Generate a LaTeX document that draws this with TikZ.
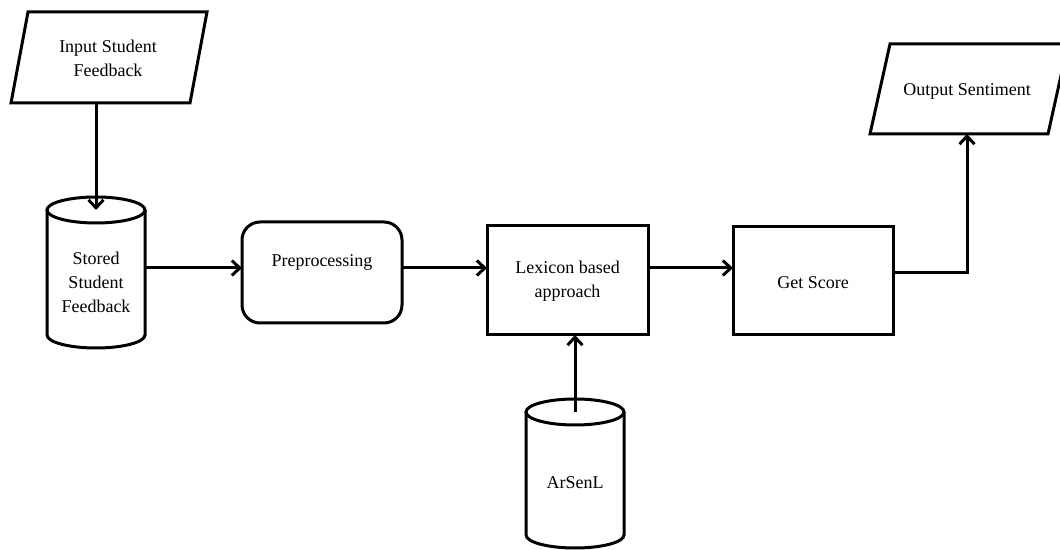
\documentclass[tikz,border=0pt]{standalone}
\usepackage{fontspec}
\setmainfont{Liberation Serif}
\usetikzlibrary{arrows.meta,calc}
\begin{document}
\begin{tikzpicture}[x=1pt,y=1pt,
  lw/.style={line width=3pt},
  area/.style={rectangle, inner sep=0pt, outer sep=0pt},
  stepbox/.style={area, draw, lw},
  lbl/.style={font=\fontsize{18}{24}\selectfont, align=center, inner sep=0pt},
  arr/.style={lw, -{Straight Barb[length=8pt,width=15pt,line width=3pt]}}
]
\useasboundingbox (0,0) rectangle (1060,549);

% Input parallelogram
\node[area, minimum width=179pt, minimum height=91pt] (in) at (109,491.5) {};
\draw[lw, line join=miter] ($(in.north west)+(8.5,0)$) -- ($(in.north east)+(8.5,0)$)
  -- ($(in.south east)-(8.5,0)$) -- ($(in.south west)-(8.5,0)$) -- cycle;
\node[lbl] (intxt) at (108,491) {Input Student\\Feedback};

% Stored cylinder
\node[area, minimum width=98pt, minimum height=125pt] (stored) at (96,276.5) {};
\draw[lw] (stored.north west) -- (stored.south west)
  arc[start angle=180, end angle=360, x radius=49pt, y radius=13pt] -- (stored.north east);
\draw[lw] (stored.north) ellipse [x radius=49pt, y radius=13pt];
\node[lbl] (storedtxt) at (96,267) {Stored\\Student\\Feedback};

% Preprocessing
\node[stepbox, rounded corners=18pt, minimum width=160pt, minimum height=101pt] (pre) at (322,276.5) {};
\node[lbl] (pretxt) at (322,287) {Preprocessing};

% Lexicon
\node[stepbox, minimum width=161pt, minimum height=109pt] (lex) at (567.5,268.5) {};
\node[lbl] (lextxt) at (567.5,268) {Lexicon based\\approach};

% Get Score
\node[stepbox, minimum width=160pt, minimum height=108pt] (gs) at (813,268) {};
\node[lbl] (gstxt) at (813,266) {Get Score};

% Output parallelogram
\node[area, minimum width=178pt, minimum height=90pt] (out) at (969,460) {};
\draw[lw, line join=miter] ($(out.north west)+(10,0)$) -- ($(out.north east)+(10,0)$)
  -- ($(out.south east)-(10,0)$) -- ($(out.south west)-(10,0)$) -- cycle;
\node[lbl] (outtxt) at (967,458) {Output Sentiment};

% ArSenL cylinder
\node[area, minimum width=98pt, minimum height=123pt] (ars) at (575,75.5) {};
\draw[lw] (ars.north west) -- (ars.south west)
  arc[start angle=180, end angle=360, x radius=49pt, y radius=13pt] -- (ars.north east);
\draw[lw] (ars.north) ellipse [x radius=49pt, y radius=13pt];
\node[lbl] (arstxt) at (575,66) {ArSenL};

% connectors
\coordinate (row) at (0,281);
\coordinate (orow) at (0,276);
\coordinate (turn) at (967,276);
\draw[arr] (in.south -| stored.north) -- (stored.north);
\draw[arr] (stored.east |- row) -- (pre.west |- row);
\draw[arr] (pre.east |- row) -- (lex.west |- row);
\draw[arr] (lex.east |- row) -- (gs.west |- row);
\draw[arr] (gs.east |- orow) -- (turn) -- (turn |- out.south);
\draw[arr] (ars.north) -- (ars.north |- lex.south);
\end{tikzpicture}
\end{document}
